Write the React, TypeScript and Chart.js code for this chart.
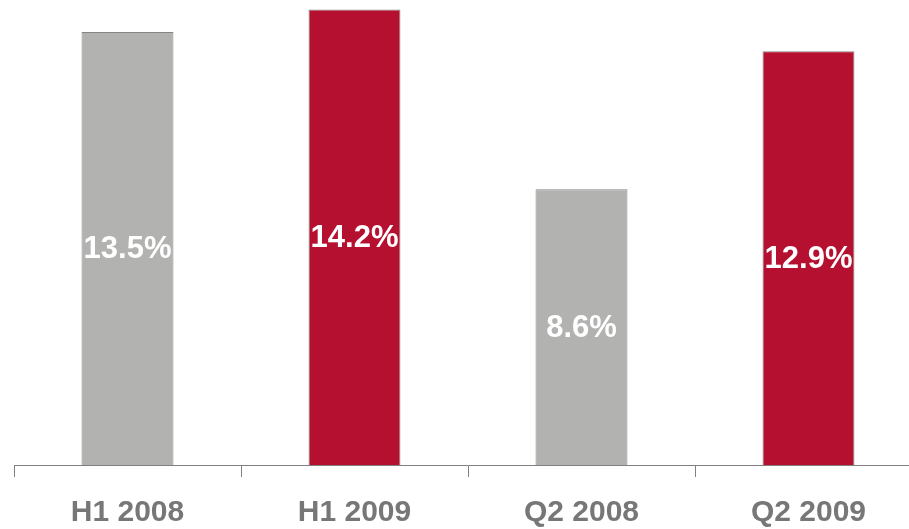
import React, { useEffect, useRef } from "react";
import { Chart, registerables } from "chart.js";

Chart.register(...registerables);

const categories = ["H1 2008", "H1 2009", "Q2 2008", "Q2 2009"];
const values = [13.5, 14.2, 8.6, 12.9];
const valueLabels = ["13.5%", "14.2%", "8.6%", "12.9%"];
const barColors = ["#b2b3b1", "#b5102f", "#b2b3b1", "#b5102f"];

const FONT = "'Liberation Sans', Arial, Helvetica, sans-serif";

const valueLabelPlugin = {
  id: "valueLabels",
  afterDatasetsDraw(chart: any) {
    const ctx = chart.ctx;
    const meta = chart.getDatasetMeta(0);
    ctx.save();
    ctx.fillStyle = "#ffffff";
    ctx.font = `bold 31px ${FONT}`;
    ctx.textAlign = "center";
    ctx.textBaseline = "middle";
    meta.data.forEach((bar: any, i: number) => {
      const { x, y, base } = bar.getProps(["x", "y", "base"], true);
      ctx.fillText(valueLabels[i], x, (y + base) / 2 + 1);
    });
    ctx.restore();
  },
};

export default function App() {
  const canvasRef = useRef<HTMLCanvasElement | null>(null);

  useEffect(() => {
    const canvas = canvasRef.current;
    if (!canvas) return;
    const chart = new Chart(canvas, {
      type: "bar",
      data: {
        labels: categories,
        datasets: [
          {
            data: values,
            backgroundColor: barColors,
            borderColor: "#858585",
            borderWidth: 1,
            borderSkipped: "bottom",
            categoryPercentage: 1,
            barPercentage: 0.405,
          },
        ],
      },
      options: {
        responsive: false,
        animation: false,
        devicePixelRatio: 1,
        layout: { padding: { left: 14, right: 8, top: 0, bottom: 0 } },
        plugins: {
          legend: { display: false },
          tooltip: { enabled: false },
        },
        scales: {
          x: {
            offset: true,
            grid: {
              display: true,
              drawOnChartArea: false,
              drawTicks: true,
              tickLength: 12,
              color: "#808080",
              offset: true,
            },
            border: { display: true, color: "#808080", width: 1 },
            ticks: {
              color: "#777777",
              font: { family: FONT, size: 30, weight: "bold" },
              padding: 18,
              maxRotation: 0,
              autoSkip: false,
            },
            afterFit: (scale: any) => {
              scale.height = 64;
            },
          },
          y: {
            display: false,
            min: 0,
            max: 14.5,
          },
        },
      },
      plugins: [valueLabelPlugin],
    });
    return () => chart.destroy();
  }, []);

  return (
    <div
      style={{
        position: "fixed",
        left: 0,
        top: 0,
        width: 909,
        height: 529,
        overflow: "hidden",
        background: "#ffffff",
      }}
    >
      <canvas ref={canvasRef} width={930} height={529} style={{ display: "block" }} />
    </div>
  );
}
